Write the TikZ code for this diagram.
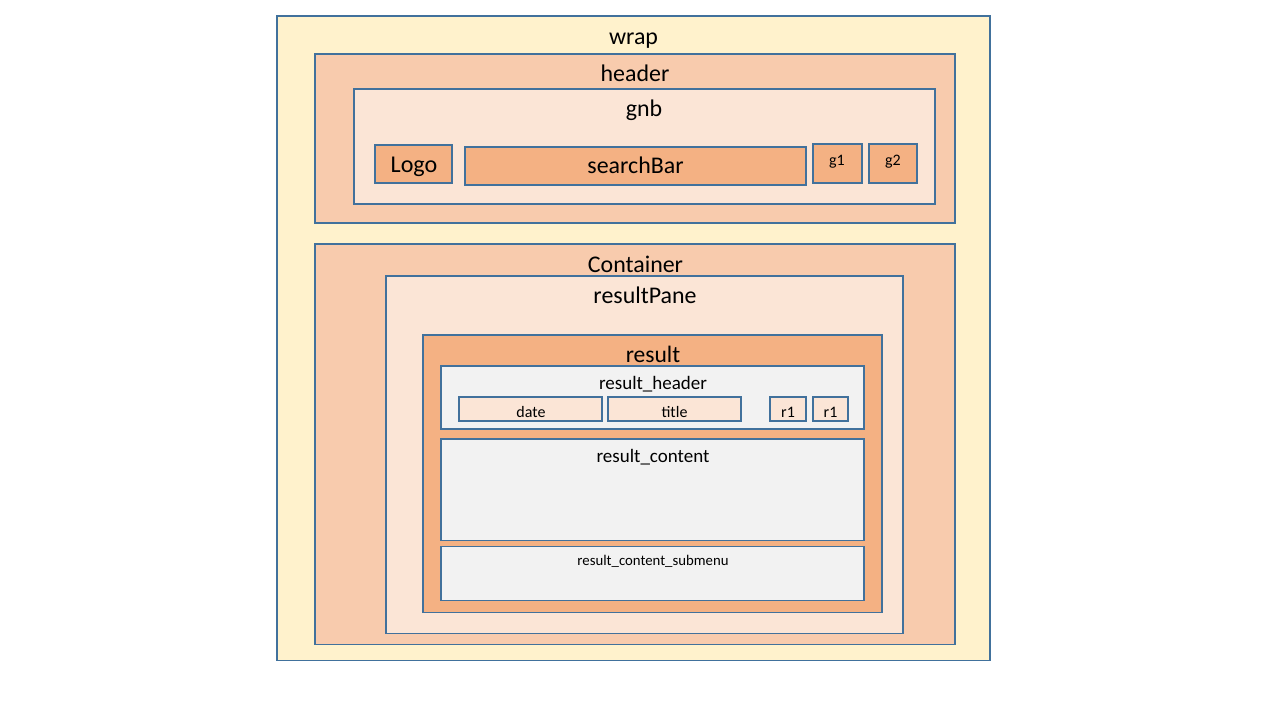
\documentclass[tikz,border=0pt]{standalone}
\usepackage{fontspec}
\setmainfont{Carlito}
\usetikzlibrary{fit}
\definecolor{edge}{HTML}{41719C}
\definecolor{wrapfill}{HTML}{FFF2CC}
\definecolor{midfill}{HTML}{F8CBAD}
\definecolor{lightfill}{HTML}{FBE5D6}
\definecolor{darkfill}{HTML}{F4B183}
\definecolor{greyfill}{HTML}{F2F2F2}
\tikzset{
  panel/.style={draw=edge, line width=0.3pt, inner sep=0pt, rectangle},
  lbl/.style={inner sep=0pt, anchor=base, text=black},
  fxl/.style={lbl, font=\fontsize{6.7pt}{8pt}\selectfont},
  fl/.style={lbl, font=\fontsize{6.8pt}{8pt}\selectfont},
  fm/.style={lbl, font=\fontsize{5.4pt}{6pt}\selectfont},
  fs/.style={lbl, font=\fontsize{4.55pt}{5pt}\selectfont},
  fxs/.style={lbl, font=\fontsize{4.2pt}{5pt}\selectfont},
}
\begin{document}
\begin{tikzpicture}[x=0.01cm, y=-0.01cm]
\useasboundingbox[fill=white] (0,0) rectangle (1280,720);

% outer page wrapper
\node[panel, fill=wrapfill, fit={(277,16) (990,660)}] (wrap) {};
\node[fl] (wrapT) at (633.5,44) {wrap};

% header block with the global navigation bar
\node[panel, fill=midfill, fit={(315,54) (955,223)}] (header) {};
\node[fl] (headerT) at (635,81.5) {header};
\node[panel, fill=lightfill, fit={(354,89) (935,204)}] (gnb) {};
\node[fl] (gnbT) at (644,116.5) {gnb};
\node[panel, fill=darkfill, fit={(375,145) (452,183)}] (logo) {};
\node[lbl, font=\fontsize{6.85pt}{8pt}\selectfont] (logoT) at (414,172.5) {Logo};
\node[panel, fill=darkfill, fit={(465,147) (806,185)}] (search) {};
\node[fl] (searchT) at (635.5,173.5) {searchBar};
\node[panel, fill=darkfill, fit={(813,144) (862,183)}] (g1) {};
\node[fs] (g1T) at (837,165) {g1};
\node[panel, fill=darkfill, fit={(869,144) (917,183)}] (g2) {};
\node[fs] (g2T) at (893,165) {g2};

% main container and result pane
\node[panel, fill=midfill, fit={(315,244) (955,644)}] (container) {};
\node[fl] (containerT) at (635.5,272) {Container};
\node[panel, fill=lightfill, fit={(386,276) (903,633)}] (pane) {};
\node[fl] (paneT) at (645,303.5) {resultPane};

% a single result entry
\node[panel, fill=darkfill, fit={(423,335) (882,612)}] (result) {};
\node[fxl] (resultT) at (653,362.5) {result};
\node[panel, fill=greyfill, fit={(441,366) (864,429)}] (rhead) {};
\node[fm] (rheadT) at (653,389) {result\_header};
\node[panel, fill=lightfill, fit={(459,397) (602,421)}] (date) {};
\node[fs] (dateT) at (531,417) {date};
\node[panel, fill=lightfill, fit={(608,397) (741,421)}] (title) {};
\node[fs] (titleT) at (674.5,417) {title};
\node[panel, fill=lightfill, fit={(770,397) (806,421)}] (ra) {};
\node[fs] (raT) at (788,417) {r1};
\node[panel, fill=lightfill, fit={(813,397) (848,421)}] (rb) {};
\node[fs] (rbT) at (830.5,417) {r1};
\node[panel, fill=greyfill, fit={(441,439) (864,540)}] (rcontent) {};
\node[fm] (rcontentT) at (653,462.5) {result\_content};
\node[panel, fill=greyfill, fit={(441,546) (864,600)}] (rsub) {};
\node[fxs] (rsubT) at (653,565.5) {result\_content\_submenu};
\end{tikzpicture}
\end{document}
